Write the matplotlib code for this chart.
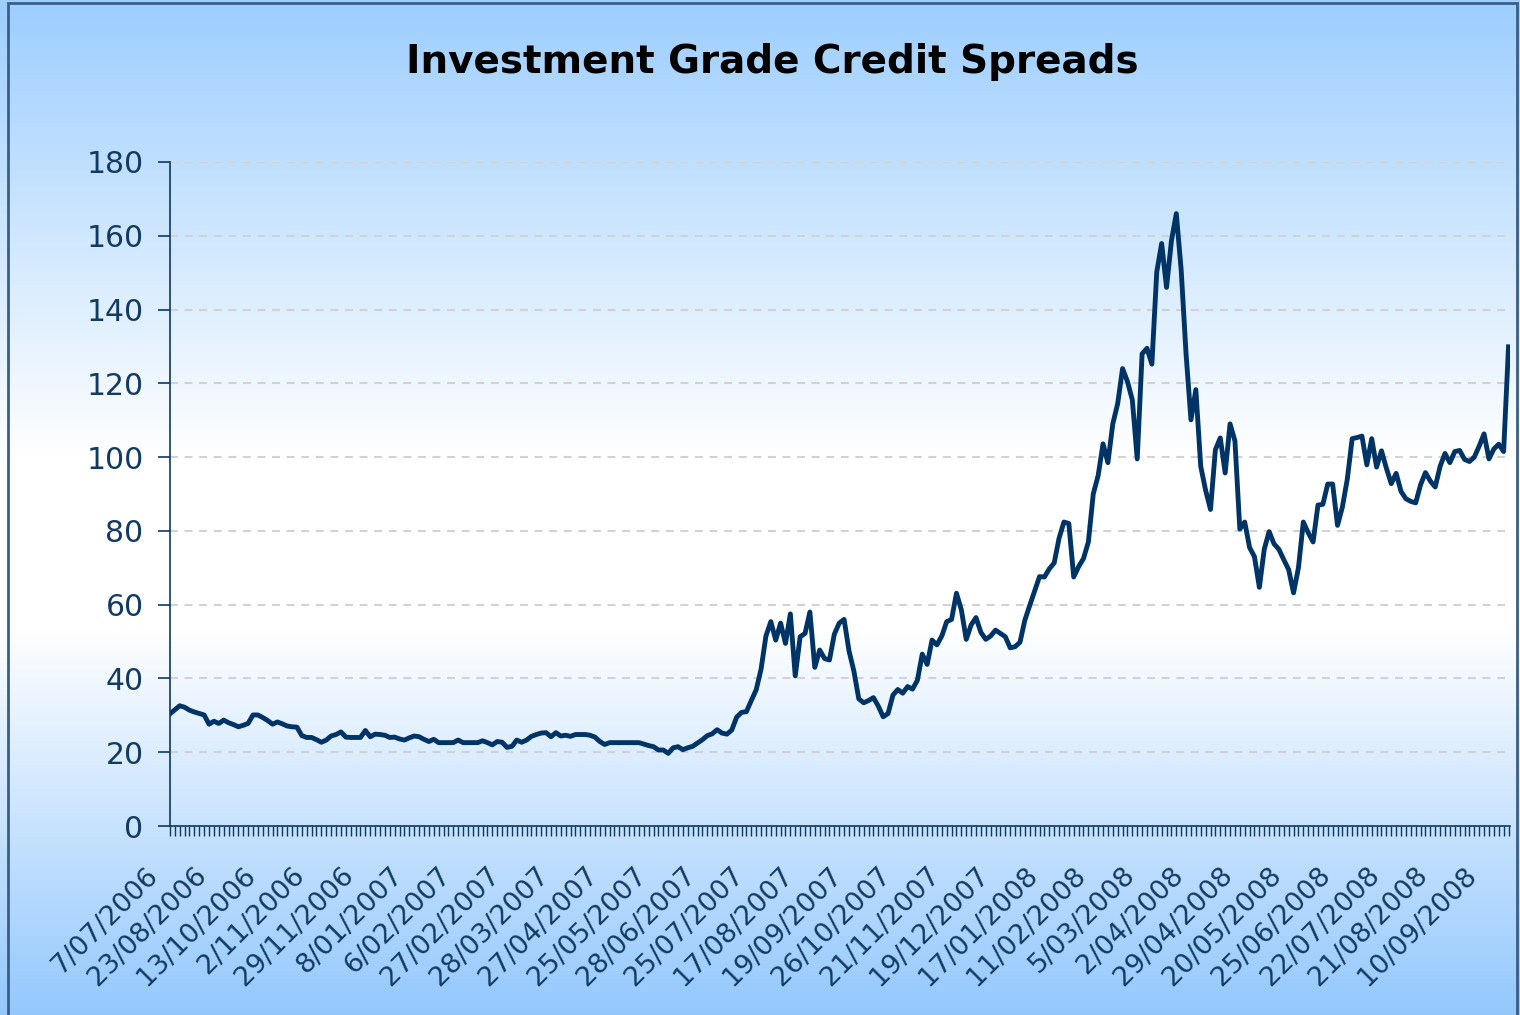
import numpy as np
import matplotlib
matplotlib.use("Agg")
import matplotlib.pyplot as plt
from matplotlib.colors import LinearSegmentedColormap
from matplotlib.patches import Rectangle
import matplotlib.transforms as mtransforms

# Date labels shown on the category axis (one every 10 observations)
date_labels = ["7/07/2006", "23/08/2006", "13/10/2006", "2/11/2006", "29/11/2006",
               "8/01/2007", "6/02/2007", "27/02/2007", "28/03/2007", "27/04/2007",
               "25/05/2007", "28/06/2007", "25/07/2007", "17/08/2007", "19/09/2007",
               "26/10/2007", "21/11/2007", "19/12/2007", "17/01/2008", "11/02/2008",
               "5/03/2008", "2/04/2008", "29/04/2008", "20/05/2008", "25/06/2008",
               "22/07/2008", "21/08/2008", "10/09/2008"]

# Spread values (bp)
spreads = [
    30.4, 31.5, 32.6, 32.2, 31.4, 30.9, 30.5, 30.1, 27.6, 28.4,
    27.8, 28.7, 28.0, 27.5, 26.9, 27.3, 27.8, 30.1, 30.1, 29.4,
    28.6, 27.6, 28.2, 27.7, 27.1, 26.9, 26.8, 24.5, 24.0, 24.0,
    23.4, 22.7, 23.3, 24.4, 24.8, 25.5, 24.1, 24.0, 24.0, 24.0,
    25.9, 24.2, 24.9, 24.8, 24.6, 24.0, 24.1, 23.6, 23.3, 23.9,
    24.4, 24.2, 23.5, 22.9, 23.5, 22.6, 22.6, 22.6, 22.6, 23.3,
    22.6, 22.6, 22.6, 22.6, 23.1, 22.6, 22.0, 22.9, 22.7, 21.3,
    21.6, 23.3, 22.7, 23.3, 24.3, 24.8, 25.2, 25.3, 24.2, 25.3,
    24.4, 24.6, 24.3, 24.8, 24.8, 24.8, 24.6, 24.1, 22.9, 22.1,
    22.6, 22.6, 22.6, 22.6, 22.6, 22.6, 22.6, 22.2, 21.8, 21.5,
    20.6, 20.6, 19.7, 21.2, 21.5, 20.7, 21.2, 21.6, 22.5, 23.4,
    24.5, 25.0, 26.1, 25.2, 24.9, 26.0, 29.5, 30.8, 31.0, 34.0,
    36.9, 42.5, 51.5, 55.4, 50.4, 55.0, 49.5, 57.5, 40.7, 51.3,
    52.2, 58.0, 43.0, 47.7, 45.4, 45.0, 52.0, 55.0, 56.0, 47.5,
    42.0, 34.5, 33.4, 34.0, 34.8, 32.5, 29.6, 30.5, 35.5, 37.0,
    36.0, 37.8, 37.1, 39.5, 46.6, 43.8, 50.4, 49.1, 51.5, 55.4,
    56.0, 63.1, 58.6, 50.6, 54.5, 56.5, 52.5, 50.6, 51.5, 53.1,
    52.2, 51.3, 48.3, 48.6, 49.8, 55.8, 59.8, 63.7, 67.6, 67.5,
    69.7, 71.3, 78.0, 82.4, 82.0, 67.5, 70.3, 72.5, 77.0, 90.0,
    95.0, 103.6, 98.5, 109.0, 114.5, 124.0, 120.5, 115.5, 99.5, 128.0,
    129.5, 125.2, 150.2, 157.9, 146.0, 158.6, 166.0, 150.7, 127.9, 110.1,
    118.3, 97.5, 91.0, 85.8, 102.0, 105.2, 95.7, 109.0, 104.4, 80.5,
    82.4, 75.5, 73.0, 64.7, 75.0, 79.8, 76.5, 75.0, 72.2, 69.5,
    63.2, 70.0, 82.4, 79.5, 77.0, 87.0, 87.2, 92.7, 92.7, 81.5,
    86.5, 94.0, 105.0, 105.3, 105.7, 97.9, 105.0, 97.3, 101.7, 97.0,
    92.8, 95.6, 90.7, 88.7, 88.0, 87.6, 92.5, 95.8, 93.5, 91.9,
    97.5, 101.0, 98.5, 101.5, 101.8, 99.4, 98.8, 100.0, 103.0, 106.3,
    99.5, 102.2, 103.5, 101.5, 129.9,
]

navy = "#0E3766"
text_col = "#123A63"

fig = plt.figure(figsize=(15.2, 10.15), dpi=100)

# Gradient background: blue at top and bottom, white in the middle
bg = fig.add_axes([0, 0, 1, 1], zorder=-10)
cmap = LinearSegmentedColormap.from_list(
    "bg", [(0.0, "#9DCEFE"), (0.45, "#FFFFFF"), (0.62, "#FFFFFF"), (1.0, "#94C8FD")])
bg.imshow(np.linspace(0, 1, 256).reshape(-1, 1), aspect="auto", cmap=cmap,
          extent=[0, 1, 0, 1], origin="upper")
bg.add_patch(Rectangle((0.005, -0.01), 0.993, 1.007, fill=False,
                       edgecolor="#3B5E86", lw=2, transform=bg.transAxes))
bg.set_xlim(0, 1)
bg.set_ylim(0, 1)
bg.axis("off")

ax = fig.add_axes([0.1118, 0.1862, 0.8816, 0.6542])
ax.patch.set_alpha(0)

x = np.arange(len(spreads))
ax.plot(x, spreads, color="#003366", lw=3.5, solid_joinstyle="round")

ax.set_ylim(0, 180)
ax.set_yticks(range(0, 181, 20))
ax.set_xlim(0, len(spreads) - 0.7)

ax.yaxis.grid(True, color="#D2D2D2", lw=1.5, dashes=(3.8, 3.2))
ax.set_axisbelow(True)

for side in ["top", "right"]:
    ax.spines[side].set_visible(False)
for side in ["left", "bottom"]:
    ax.spines[side].set_color(navy)
    ax.spines[side].set_linewidth(1.2)

ax.tick_params(axis="y", direction="out", length=9, width=1.2, color=navy,
               labelsize=21.5, labelcolor=text_col, pad=10)

# every observation gets a tick, every 10th one a date label
ax.set_xticks(x)
ax.set_xticklabels([])
ax.tick_params(axis="x", direction="out", length=7, width=1, color=navy)

trans = mtransforms.blended_transform_factory(ax.transData, ax.transAxes)
shift = mtransforms.ScaledTranslation(-0.25, -0.36, fig.dpi_scale_trans)
for k, lab in enumerate(date_labels):
    ax.text(k * 10, 0, lab, transform=trans + shift, rotation=45,
            rotation_mode="anchor", ha="right", va="top",
            fontsize=19.5, color=text_col)

fig.text(0.508, 0.939, "Investment Grade Credit Spreads", ha="center", va="center",
         fontsize=28, fontweight="bold", color="black")

fig.savefig("out.png", dpi=100)
